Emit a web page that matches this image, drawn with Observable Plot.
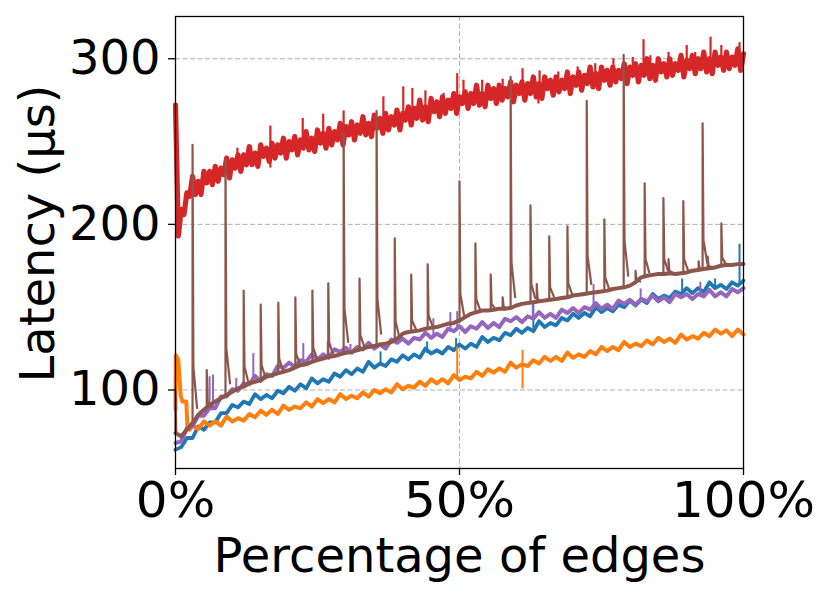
<!DOCTYPE html>
<html>
<head>
<meta charset="utf-8">
<script src="https://cdn.jsdelivr.net/npm/d3@7"></script>
<script src="https://cdn.jsdelivr.net/npm/@observablehq/plot@0.6"></script>
<style>
  html, body { margin: 0; padding: 0; background: white; }
  #chart svg { display: block; }
</style>
</head>
<body>
<div id="chart"></div>
<script>
// ---------- labels & ticks ----------
const xLabel = "Percentage of edges";
const yLabel = "Latency (μs)";
const xTicks = [0, 50, 100];
const yTicks = [100, 200, 300];

// ---------- colours ----------
const cBlue = "#1f77b4", cOrange = "#ff7f0e", cRed = "#d62728", cPurple = "#9467bd", cBrown = "#8c564b";

// ---------- red series: 201 samples evenly spread over 0..100 % ----------
const red = [
  272,193,209,206,219,217,229,218,226,218,232,225,232,224,235,226,234,230,240,228,
  239,234,242,232,242,236,247,236,243,235,248,241,246,238,249,240,248,243,252,240,
  250,245,253,242,251,246,256,245,252,244,257,249,255,246,258,248,256,251,261,248,
  259,254,262,251,260,255,265,254,261,253,266,258,264,255,267,257,265,260,269,257,
  267,263,271,260,270,264,275,263,271,262,276,268,274,265,277,267,275,270,279,267,
  277,273,280,270,279,273,284,272,279,271,284,276,282,273,284,275,282,277,286,274,
  284,279,286,275,285,279,289,277,285,276,289,282,287,278,289,280,287,282,292,279,
  289,284,292,281,290,285,295,283,291,282,295,287,293,284,295,286,293,288,297,285,
  295,290,297,286,296,290,300,288,296,287,300,292,297,289,300,290,297,293,302,289,
  299,294,302,291,300,294,304,292,300,291,304,296,301,293,304,294,301,296,306,293,
  303
];
const redSpikeX  = [10.9,16.7,22.4,26.0,29.6,36.6,40.1,41.7,44.0,47.2,49.6,50.7,54.0,57.6,61.1,63.9,64.1,67.4,70.8,73.9,77.1,80.5,82.4,83.6,86.8,90.0,91.5,94.2,96.1,99.3];
const redSpikeLo = [236,234,248,251,255,261,264,265.5,268.5,271.5,273.5,274.5,277,279.5,281,272.7,282.5,284.5,286.5,288.5,290.5,291.8,292.6,293.3,294.6,296.2,296.7,297.6,298.3,299.5];
const redSpikeHi = [246,259.4,264,266.5,268.5,277,283,282,280.6,279,291,287,287,287.7,294,282.5,292.7,292,295,297,300,300.8,311.5,301.8,303.8,308,303.8,313,308,309.7];

// ---------- brown series: 101 samples (0..100 %) + spikes ----------
const brown = [
  74,72,76,80,85,88,91,93,95,97,
  99,101,102,104,105,106,108,109,110,111,
  112,113.5,115,115.5,117,118,119,120,120.5,121.5,
  122.5,123,124,125,126,126.5,127.5,128,129,131,
  134,135,135.5,136,137,137.5,138,139,140,140.5,
  142,144,146,147,148,148,148.5,149,149,149.5,
  151,152,152.5,153,153.5,154,154.5,155,155.5,156,
  157,157.5,158,158.5,159,159.5,160,161,161.5,162,
  163,165,168,169,169.5,170,170,170.5,170,170.5,
  171,172,172.5,173,173.5,174,175,175.5,175.5,176,176
];
const brownSpikeX     = [0,3.0,5.5,8.8,12.0,15.0,18.1,21.1,24.1,26.9,29.6,32.4,35.4,38.6,41.5,44.4,50.0,52.8,55.5,57.6,59.0,62.5,63.6,65.8,69.0,72.4,75.5,78.9,81.0,82.6,85.9,86.8,89.4,92.1,92.8,93.7,96.1];
const brownSpikeBase  = [74,80,89,96.5,102,106,110,113.5,117,120,122,124.5,127,129,135,137,141,146.5,148,149,149.5,152.5,153,154.5,156,158,159.5,162,165,168,170,170,170.5,172.5,173,173.5,175];
const brownSpikePeak  = [99,248,112,239,160,151.5,152.7,156,160,164.4,255,167.3,268.5,191.5,169.7,175.8,226,188.5,169.7,156,289,211.5,164,192.7,198.8,274.5,203,302.4,172,224.8,215.8,179,214,177.6,261,180.6,200.6];
const brownSpikeTail1 = [74,114,93,125,114,115,119,122,125.6,129,149,133,155,141.5,142,145,158,155,152,150.5,177,164,155,162,164.5,181,168,190,166.5,179,179,172,179,173.5,190.5,175,180];
const brownSpikeTail2 = [73,89,90,104,105,108,112,115.5,119,122,129,126.5,134,132,137,139,145,148.5,149,149,156,155.5,153.5,156.5,158,164,161.5,169,165.5,171,172,170.5,172.5,173,177,174,176];

// ---------- purple series: 101 samples + spikes ----------
const purple = [
  68,69,77,78,84.5,84.5,89,89,96,96,
  100.5,99.5,104,103.5,108.5,105.5,109.5,108.5,114.5,113.5,
  116.5,114,118,117,121.5,118.5,121.5,119.5,124.5,123,
  125.5,122.5,126,124.5,128.5,125,127.5,125,130.5,128.5,
  131,128,131.5,130.5,134.5,131.5,134,132,137,135.5,
  138.5,135,138.5,137,141,137.5,140.5,138,143,141.5,
  144,141,144.5,143,147,143.5,146,143.5,148.5,146.5,
  149.5,146.5,150,148.5,152.5,149,151.5,149,154,152,
  154.5,151.5,155,153.5,157,153.5,156,153,158,156,
  158,155,158,156.5,160.5,156.5,159,156.5,161,159,161.5
];
const purpleSpikeX  = [6.0,6.6,10.7,13.7,22.5,26.8,30.8,45.4,48.4,49.6,62.9,73.6,81.9,92.4];
const purpleSpikeLo = [89,89,99,104,117,120,124,132,135,136,143,149,153,157];
const purpleSpikeHi = [108,109,107,122,128,129,127.5,143,146.7,147.3,152,163.6,161,165];

// ---------- blue series: 101 samples + spikes ----------
const blue = [
  64,65.5,71,71,78,76,80.5,80.5,86,86,
  91,89.5,93,91.5,97.5,94.5,97,95,99.5,98,
  102,99.5,103.5,101,107,104,106.5,105,110,108,
  112,109.5,113,111,117,113.5,116,114.5,118.5,117,
  121,118.5,121.5,119.5,125,122,124,122,126,124,
  127.5,125,128,126,132,129,131.5,130,134.5,133,
  137,134.5,137.5,135.5,141.5,138,140.5,139,143.5,142,
  146,143.5,146.5,144.5,150,147,149.5,147.5,151.5,150,
  154,151,154.5,152.5,158,155,157,155.5,159.5,158,
  161.5,158.5,161.5,159,165,161.5,163.5,161,165,163,166
];
const blueSpikeX  = [36.1,44.3,49.4,63.0,89.2,95.0,99.3];
const blueSpikeLo = [115,122,125,137,158,162,164];
const blueSpikeHi = [123,129,131,153.3,167,167,188];

// ---------- orange series: start transient, then 1 % samples from 3 % ----------
const orangeHeadX = [0,0.05,0.5,0.9,1.2,1.9,2.1,2.5];
const orangeHeadY = [88,121,118,97,93,93,78,76];
const orangeBody = [
  78.5,76.5,81,78.5,81,78.5,84,81,83,81.5,
  85.5,83.5,87.5,85,88,85.5,90.5,88,90,89,
  92.5,90,94.5,92,94.5,92.5,97.5,94.5,96.5,95,
  98.5,96,100,98,100.5,98.5,103.5,100.5,102.5,101.5,
  105,102.5,106.5,104,106.5,104,109,106,108,107,
  111,108.5,112.5,110.5,113,111,116.5,113.5,115.5,114.5,
  118,116,120,117.5,120,117.5,122.5,119.5,121.5,120,
  123.5,121.5,126,123.5,126,124,129,126,128,126.5,
  130,127.5,131.5,129,131,128.5,133.5,130.5,132.5,131,
  134.5,132.5,136.5,134,136,132.5,136.5,133.5
];
const orangeBodyStart = 3;
const orangeSpikeX  = [49.6,61.1];
const orangeSpikeLo = [106,100.6];
const orangeSpikeHi = [126,124];

// ---------- build tables ----------
const even = (arr) => arr.map((y, i) => ({x: i * 100 / (arr.length - 1), y}));
const redData = even(red);
const brownData = even(brown);
const purpleData = even(purple);
const blueData = even(blue);
const orangeData = orangeHeadX.map((x, i) => ({x, y: orangeHeadY[i]}))
  .concat(orangeBody.map((y, i) => ({x: orangeBodyStart + i, y})));
const spikes = (xs, lo, hi) => xs.map((x, i) => ({x, lo: lo[i], hi: hi[i]}));
const brownSpikes = [];
brownSpikeX.forEach((x, i) => {
  brownSpikes.push({id: i, x, y: brownSpikeBase[i]});
  brownSpikes.push({id: i, x, y: brownSpikePeak[i]});
  brownSpikes.push({id: i, x: x + 0.15, y: brownSpikeTail1[i]});
  brownSpikes.push({id: i, x: x + 0.8, y: brownSpikeTail2[i]});
});

const lineOpts = (color, w) => ({x: "x", y: "y", stroke: color, strokeWidth: w, strokeLinejoin: "round"});
const ruleOpts = (color, w) => ({x: "x", y1: "lo", y2: "hi", stroke: color, strokeWidth: w});

const chart = Plot.plot({
  width: 830,
  height: 598,
  marginLeft: 175,
  marginRight: 87,
  marginTop: 16,
  marginBottom: 130,
  style: {fontFamily: "DejaVu Sans", background: "white", color: "black"},
  x: {domain: [0, 100]},
  y: {domain: [52.6, 325.5]},
  marks: [
    Plot.gridX({ticks: xTicks, stroke: "#b0b0b0", strokeOpacity: 1, strokeWidth: 1, strokeDasharray: "5,2.5"}),
    Plot.gridY({ticks: yTicks, stroke: "#b0b0b0", strokeOpacity: 1, strokeWidth: 1, strokeDasharray: "5,2.5"}),
    Plot.line(blueData, lineOpts(cBlue, 3.8)),
    Plot.ruleX(spikes(blueSpikeX, blueSpikeLo, blueSpikeHi), ruleOpts(cBlue, 2)),
    Plot.line(orangeData, lineOpts(cOrange, 4)),
    Plot.ruleX(spikes(orangeSpikeX, orangeSpikeLo, orangeSpikeHi), ruleOpts(cOrange, 2)),
    Plot.line(redData, lineOpts(cRed, 5.2)),
    Plot.ruleX(spikes(redSpikeX, redSpikeLo, redSpikeHi), ruleOpts(cRed, 2.2)),
    Plot.line(purpleData, lineOpts(cPurple, 4)),
    Plot.ruleX(spikes(purpleSpikeX, purpleSpikeLo, purpleSpikeHi), ruleOpts(cPurple, 2)),
    Plot.line(brownData, lineOpts(cBrown, 4)),
    Plot.line(brownSpikes, {x: "x", y: "y", z: "id", stroke: cBrown, strokeWidth: 2.2}),
    Plot.frame({stroke: "black", strokeWidth: 1.3}),
    Plot.axisX({ticks: xTicks, tickFormat: d => `${d}%`, tickSize: 7, tickPadding: 6, fontSize: 50, label: null, strokeWidth: 1.3}),
    Plot.axisY({ticks: yTicks, tickSize: 7, tickPadding: 8, fontSize: 48, label: null, strokeWidth: 1.3}),
    Plot.text([xLabel], {text: d => d, frameAnchor: "bottom", textAnchor: "middle", lineAnchor: "middle", dy: 88, fontSize: 48, fill: "black"}),
    Plot.text([yLabel], {text: d => d, frameAnchor: "left", textAnchor: "middle", lineAnchor: "middle", rotate: -90, dx: -137, dy: -9, fontSize: 48, fill: "black"})
  ]
});
document.getElementById("chart").appendChild(chart);
</script>
</body>
</html>
